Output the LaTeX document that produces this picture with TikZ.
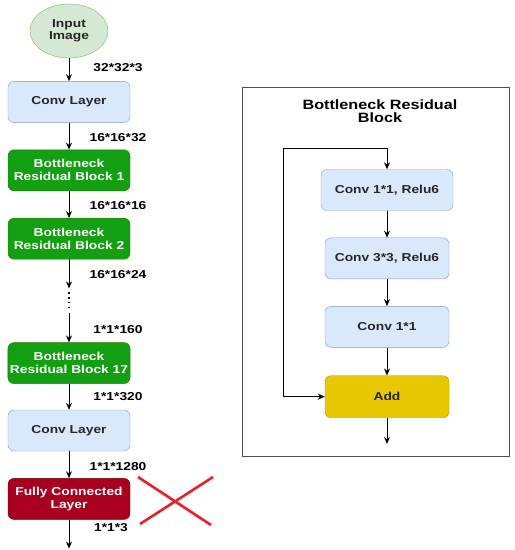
\documentclass[tikz,border=0pt]{standalone}
\usepackage{fontspec}
\setmainfont{Liberation Sans}[FakeStretch=1.2]
\usetikzlibrary{arrows.meta,positioning,shapes.geometric}
\definecolor{convbg}{HTML}{DAE8FC}
\definecolor{convrule}{HTML}{7D9CC8}
\definecolor{brbbg}{HTML}{12A012}
\definecolor{brbrule}{HTML}{2D7600}
\definecolor{fcbg}{HTML}{A8001E}
\definecolor{fcrule}{HTML}{6F0000}
\definecolor{addbg}{HTML}{E8C800}
\definecolor{addrule}{HTML}{B09500}
\definecolor{inbg}{HTML}{D5E8D4}
\definecolor{inrule}{HTML}{82B366}
\definecolor{crossred}{HTML}{E8202A}

\begin{document}
\begin{tikzpicture}[x=1pt,y=-1pt,
  node distance=27pt,>={Stealth[length=7pt,width=6pt]},
  box/.style={draw=convrule,fill=convbg,rounded corners=6pt,align=center,
              minimum width=122pt,minimum height=41pt,inner sep=2pt,
              font=\fontsize{11.5}{13}\selectfont\bfseries,text=black!85},
  greenbox/.style={box,draw=brbrule,fill=brbbg,text=white},
  redbox/.style={box,draw=fcrule,fill=fcbg,text=white},
  addbox/.style={box,draw=addrule,fill=addbg,minimum width=124pt,minimum height=42pt},
  inbox/.style={ellipse,draw=inrule,fill=inbg,align=center,minimum width=78pt,
              minimum height=54pt,inner sep=1pt,
              font=\fontsize{11.5}{12}\selectfont\bfseries,text=black!85},
  lbl/.style={font=\fontsize{11.5}{13}\selectfont\bfseries,inner sep=0pt},
  flow/.style={->,line width=0.9pt},
  cross/.style={draw=crossred,line width=2.6pt}]
  \useasboundingbox (0,0) rectangle (515,550);
  \node[inbox](input) at (69,31){Input\\Image};
  \node[box,below=23pt of input](conv1){Conv Layer};
  \node[greenbox,below=of conv1](brb1){Bottleneck\\Residual Block 1};
  \node[greenbox,below=of brb1](brb2){Bottleneck\\Residual Block 2};
  \node[greenbox,below=83pt of brb2](brb17){Bottleneck\\Residual Block 17};
  \node[box,below=26pt of brb17](conv2){Conv Layer};
  \node[redbox,below=of conv2](fc){Fully Connected\\Layer};
  \coordinate[below=29pt of fc](out);
  \coordinate[below=29pt of brb2](d1);
  \coordinate[below=54pt of brb2](d2);
  \node[lbl](s1) at (118,68){32*32*3};
  \node[lbl](s2) at (118,138){16*16*32};
  \node[lbl](s3) at (118,206){16*16*16};
  \node[lbl](s4) at (118,275){16*16*24};
  \node[lbl](s5) at (118,330){1*1*160};
  \node[lbl](s6) at (118,397){1*1*320};
  \node[lbl](s7) at (118,467){1*1*1280};
  \node[lbl](s8) at (111,528){1*1*3};
  \draw[flow](input)--(conv1);
  \draw[flow](conv1)--(brb1);
  \draw[flow](brb1)--(brb2);
  \draw[flow](brb2)--(d1);
  \draw[line width=1.3pt,dash pattern=on 1.3pt off 3.5pt,shorten <=4pt,shorten >=4pt](d1)--(d2);
  \draw[flow](d2)--(brb17);
  \draw[flow](brb17)--(conv2);
  \draw[flow](conv2)--(fc);
  \draw[flow](fc)--(out);
  \draw[cross](138,477)--(211,525);
  \draw[cross](213,477)--(140,524);
  \node[draw=black!70,line width=1pt,minimum width=267pt,minimum height=369pt,
        inner sep=0pt](frame) at (375.5,271.5){};
  \node[align=center,font=\fontsize{13.5}{13}\selectfont\bfseries](title) at (380,111.5)
    {Bottleneck Residual\\Block};
  \coordinate(top) at (387,148);
  \coordinate(skip) at (283,148);
  \node[box,minimum width=132pt](c11) at (387,190){Conv 1*1, Relu6};
  \node[box,minimum width=124pt,below=of c11](c33){Conv 3*3, Relu6};
  \node[box,minimum width=124pt,below=of c33](c1){Conv 1*1};
  \node[addbox,below=28pt of c1](add){Add};
  \coordinate[below=26pt of add](bout);
  \draw[flow](top)--(c11);
  \draw[flow](c11)--(c33);
  \draw[flow](c33)--(c1);
  \draw[flow](c1)--(add);
  \draw[flow](top)--(skip)|-(add);
  \draw[flow](add)--(bout);
\end{tikzpicture}
\end{document}
